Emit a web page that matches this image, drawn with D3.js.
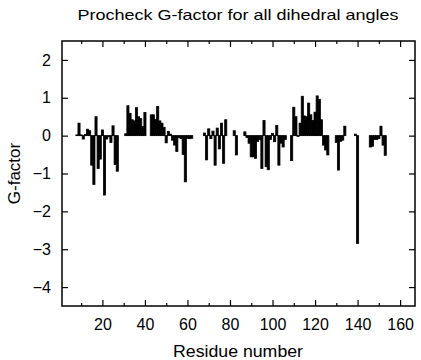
<!DOCTYPE html>
<html>
<head>
<meta charset="utf-8">
<script src="https://cdn.jsdelivr.net/npm/d3@7"></script>
<style>
  html, body { margin: 0; padding: 0; background: #fff; }
  svg { display: block; }
  text { font-family: "Liberation Sans", Arial, Helvetica, sans-serif; fill: #000; }
</style>
</head>
<body>
<script>
// ---- data ----
const residues = [8, 9, 10, 11, 12, 13, 14, 15, 16, 17, 18, 19, 20, 21, 22, 23, 24, 25, 26, 27,
  31, 32, 33, 34, 35, 36, 37, 38, 39, 40,
  43, 44, 45, 46, 47, 48, 49, 50, 51, 52, 53, 54, 55, 56, 57, 58, 59, 60, 61, 62,
  68, 69, 70, 71, 72, 73, 74, 75, 76, 77, 78,
  82, 83,
  87, 88, 89, 90, 91, 92, 93, 94, 95, 96, 97, 98, 99, 100, 101, 102, 103, 104, 105, 106,
  109, 110, 111, 112, 113, 114, 115, 116, 117, 118, 119, 120, 121, 122, 123, 124, 125, 126,
  130, 131, 132, 133, 134,
  139, 140,
  146, 147, 148, 149, 150, 151, 152, 153];
const gFactor = [0.02, 0.33, 0.02, -0.09, 0.03, 0.17, 0.13, -0.78, -1.29, 0.50, -0.87, -0.62, 0.15, -1.57, -0.09, -0.03, -0.18, 0.26, -0.76, -0.94,
  0.05, 0.79, 0.59, 0.42, 0.39, 0.74, 0.50, 0.45, 0.24, 0.61,
  0.55, 0.55, 0.43, 0.77, 0.39, 0.33, 0.22, -0.19, 0.11, 0.04, -0.12, -0.25, -0.42, -0.05, -0.08, -0.50, -1.22, -0.07, -0.08, -0.07,
  0.07, -0.64, 0.18, -0.08, 0.12, -0.78, 0.20, -0.35, 0.33, -0.73, 0.42,
  0.13, -0.51,
  0.10, -0.05, -0.20, -0.56, -0.56, -0.60, -0.15, -0.10, -0.87, 0.40, -0.82, -0.90, -0.10, 0.06, -0.16, 0.27, -0.78, -0.20, -0.30, -0.10,
  -0.66, 0.75, 0.50, -0.02, 0.33, 1.04, 0.52, 0.50, 0.86, 0.55, 0.40, 0.62, 1.05, 0.96, 0.42, -0.25, -0.38, -0.51,
  -0.18, -0.91, -0.15, -0.12, 0.25,
  0.04, -2.85,
  -0.30, -0.28, -0.10, -0.10, -0.08, 0.25, -0.25, -0.52];
const xMajorTicks = [20, 40, 60, 80, 100, 120, 140, 160];
const xMinorTicks = [10, 30, 50, 70, 90, 110, 130, 150];
const yTicks = [-4, -3, -2, -1, 0, 1, 2];
const titleText = "Procheck G-factor for all dihedral angles";
const xLabel = "Residue number";
const yLabel = "G-factor";

// ---- layout ----
const W = 421, H = 360;
const L = 62, R = 415, T = 41, B = 306;

const svg = d3.select("body").append("svg").attr("width", W).attr("height", H);

const x = d3.scaleLinear().domain([1, 167]).range([L, R]);
const y = d3.scaleLinear().domain([-4.5, 2.5]).range([B, T]);

// bars
const data = residues.map((r, i) => ({ r, v: gFactor[i] }));
svg.append("g").selectAll("rect").data(data).join("rect")
  .attr("x", d => x(d.r - 0.5))
  .attr("width", d => x(d.r + 0.5) - x(d.r - 0.5))
  .attr("y", d => y(Math.max(0, d.v)))
  .attr("height", d => Math.abs(y(d.v) - y(0)))
  .attr("fill", "#000")
  .attr("stroke", "#000")
  .attr("stroke-width", 0.8);

// axes (inward ticks, mirrored)
const axStyle = g => {
  g.select(".domain").remove();
  g.selectAll("line").attr("stroke", "#000").attr("stroke-width", 1.2);
  g.selectAll("text").attr("font-size", 16).attr("font-family", '"Liberation Sans", Arial, sans-serif');
};
svg.append("g").attr("transform", `translate(0,${B})`)
  .call(d3.axisBottom(x).tickValues(xMajorTicks).tickSizeInner(-6).tickSizeOuter(0).tickPadding(12.6).tickFormat(d3.format("d")))
  .call(axStyle);
svg.append("g").attr("transform", `translate(0,${B})`)
  .call(d3.axisBottom(x).tickValues(xMinorTicks).tickSizeInner(-3).tickSizeOuter(0).tickFormat(""))
  .call(axStyle);
svg.append("g").attr("transform", `translate(0,${T})`)
  .call(d3.axisTop(x).tickValues(xMajorTicks).tickSizeInner(-6).tickSizeOuter(0).tickFormat(""))
  .call(axStyle);
svg.append("g").attr("transform", `translate(0,${T})`)
  .call(d3.axisTop(x).tickValues(xMinorTicks).tickSizeInner(-3).tickSizeOuter(0).tickFormat(""))
  .call(axStyle);
svg.append("g").attr("transform", `translate(${L},0)`)
  .call(d3.axisLeft(y).tickValues(yTicks).tickSizeInner(-6).tickSizeOuter(0).tickPadding(11).tickFormat(d3.format("d")))
  .call(axStyle);
svg.append("g").attr("transform", `translate(${R},0)`)
  .call(d3.axisRight(y).tickValues(yTicks).tickSizeInner(-6).tickSizeOuter(0).tickFormat(""))
  .call(axStyle);

// frame
svg.append("rect").attr("x", L).attr("y", T).attr("width", R - L).attr("height", B - T)
  .attr("fill", "none").attr("stroke", "#000").attr("stroke-width", 1.5);

// title & labels
svg.append("text").attr("x", 238).attr("y", 19.5).attr("text-anchor", "middle")
  .attr("font-size", 15).attr("textLength", 321).attr("lengthAdjust", "spacingAndGlyphs")
  .text(titleText);
svg.append("text").attr("x", 238).attr("y", 356.5).attr("text-anchor", "middle")
  .attr("font-size", 17).attr("textLength", 130).attr("lengthAdjust", "spacingAndGlyphs")
  .text(xLabel);
svg.append("text").attr("transform", "translate(20,173.5) rotate(-90)").attr("text-anchor", "middle")
  .attr("font-size", 17)
  .text(yLabel);
</script>
</body>
</html>
